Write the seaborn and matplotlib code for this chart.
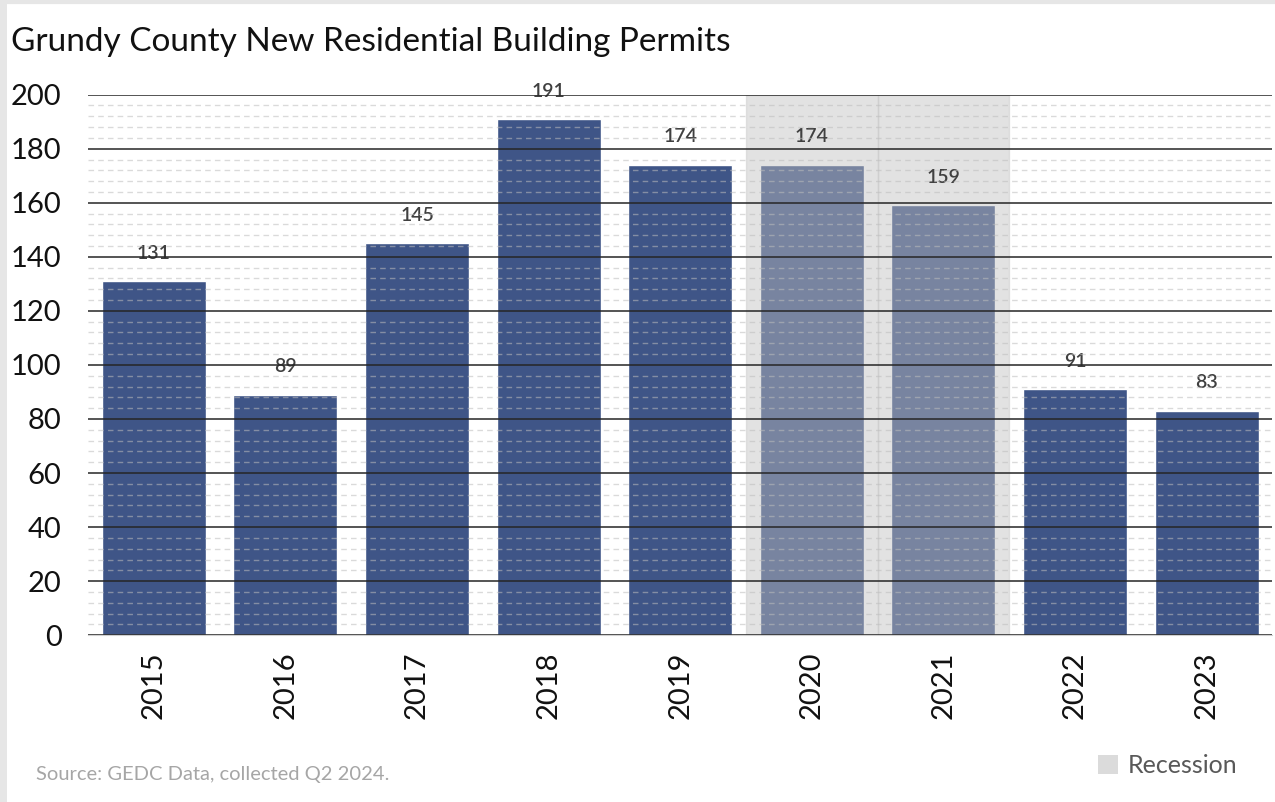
import matplotlib
matplotlib.use("Agg")
from matplotlib import pyplot as plt
from matplotlib.lines import Line2D
from matplotlib.patches import Patch
from matplotlib.ticker import MultipleLocator
import pandas as pd
import seaborn as sns

# Permit counts by year
years = ['2015', '2016', '2017', '2018', '2019', '2020', '2021', '2022', '2023']
permits = [131, 89, 145, 191, 174, 174, 159, 91, 83]
# Recession band height (covers the whole y range)
recession = [0, 0, 0, 0, 0, 200, 200, 0, 0]

df = pd.DataFrame({'Year': years, 'Permits': permits, 'Recession': recession})

sns.set_style('white')
plt.rcParams['font.family'] = ['Lato', 'DejaVu Sans']

fig = plt.figure(figsize=(12.75, 8.02), dpi=100)
ax = fig.add_axes([0.069, 0.208, 0.929, 0.674])

sns.barplot(data=df, x='Year', y='Permits', color='#3F5587',
            saturation=1, width=0.79, ax=ax, zorder=1)
labels = ax.bar_label(ax.containers[0], padding=14, fontsize=14,
                      color='#404040', fontweight='semibold')
for t in labels:
    t.set_zorder(2.5)

sns.barplot(data=df, x='Year', y='Recession', color='#BFBFBF', alpha=0.45,
            saturation=1, width=1.0, ax=ax, zorder=2,
            edgecolor='#C8C8C8', linewidth=1)

ax.set_ylim(0, 200)
ax.set_xlim(-0.5, 8.5)
ax.yaxis.set_major_locator(MultipleLocator(20))
ax.yaxis.set_minor_locator(MultipleLocator(4))
ax.grid(axis='y', which='major', color='#262626', linewidth=1.1, zorder=3)
ax.grid(axis='y', which='minor', color='#BDBDBD', linewidth=1,
        linestyle=(0, (4, 3)), alpha=0.55, zorder=3)
ax.set_axisbelow(False)

for s in ['top', 'right', 'left']:
    ax.spines[s].set_visible(False)
ax.spines['bottom'].set_color('#D0D0D0')

ax.tick_params(axis='both', which='both', length=0)
ax.tick_params(axis='y', labelsize=21, pad=19, labelcolor='#111111')
ax.tick_params(axis='x', labelsize=21, pad=12, rotation=90,
               labelcolor='#111111')
ax.set_xlabel('')
ax.set_ylabel('')

fig.text(0.009, 0.948, 'Grundy County New Residential Building Permits',
         fontsize=24, va='center', ha='left', color='#111111')
fig.text(0.028, 0.034, 'Source: GEDC Data, collected Q2 2024.',
         fontsize=14.5, color='#A6A6A6', va='center', ha='left')

handle = Patch(facecolor='#BFBFBF', alpha=0.55, edgecolor='none')
fig.legend([handle], ['Recession'], loc='center right',
           bbox_to_anchor=(0.988, 0.045), frameon=False, fontsize=18,
           handlelength=0.8, handleheight=0.8, handletextpad=0.4,
           labelcolor='#595959')

# light edge along the top and left of the picture
fig.add_artist(Line2D([0, 1], [0.998, 0.998], transform=fig.transFigure,
                      color='#E6E6E6', linewidth=3))
fig.add_artist(Line2D([0.002, 0.002], [0, 1], transform=fig.transFigure,
                      color='#E6E6E6', linewidth=5))

fig.savefig('out.png', dpi=100)
